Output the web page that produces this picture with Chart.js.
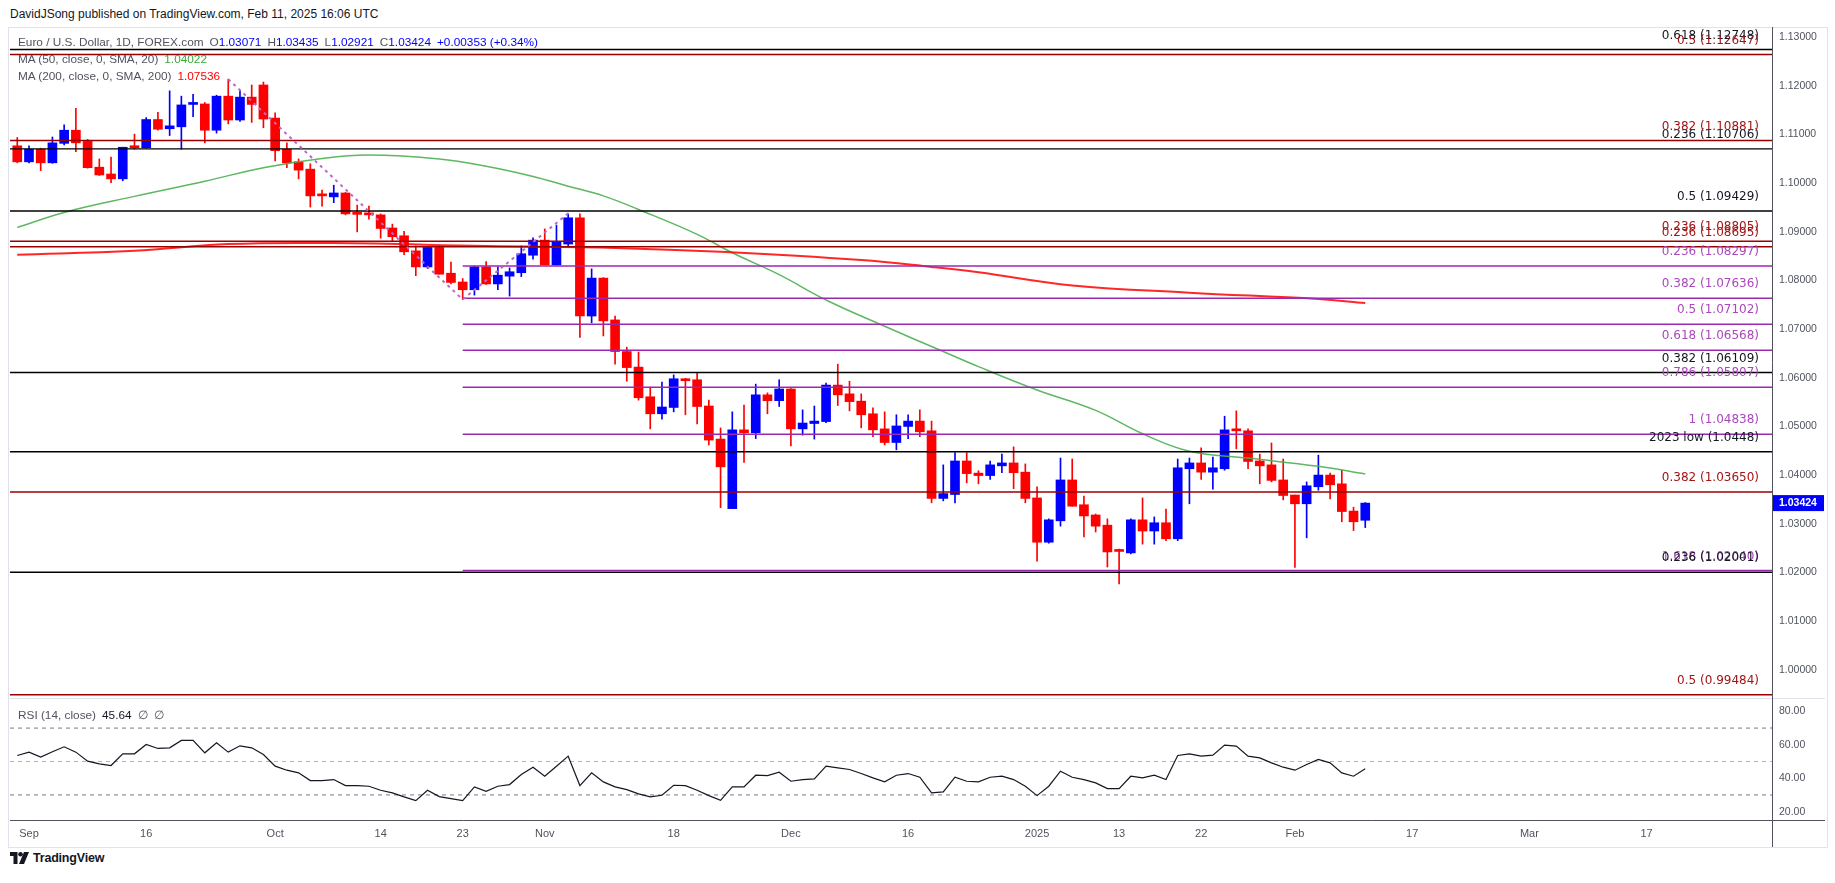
<!DOCTYPE html>
<html>
<head>
<meta charset="utf-8">
<title>EUR/USD 1D</title>
<script src="https://cdn.jsdelivr.net/npm/chart.js@4.4.1/dist/chart.umd.min.js"></script>
<style>
  html, body { margin: 0; padding: 0; background: #fff; }
  body { width: 1835px; height: 883px; position: relative; overflow: hidden; font-family: "Liberation Sans", Arial, sans-serif; color: #131722; }
  .abs { position: absolute; white-space: nowrap; }
  #frame { left: 8px; top: 27px; width: 1820px; height: 821px; border: 1px solid #e0e3eb; box-sizing: border-box; }
  #pub { left: 10px; top: 6px; font-size: 12px; line-height: 16px; }
  .leg { left: 18px; font-size: 11.8px; line-height: 16px; color: #50535e; z-index: 5; }
  .leg b { font-weight: normal; margin-left: 6px; }
  .v { color: #0000ff; }
  #mainWrap { left: 10px; top: 27px; width: 1815px; height: 671px; }
  #rsiWrap { left: 10px; top: 698px; width: 1815px; height: 149px; }
  #logo { left: 10px; top: 851px; font-size: 12.5px; line-height: 14px; font-weight: bold; letter-spacing: -0.2px; }
  #logo svg { vertical-align: -2px; margin-right: 4px; }
</style>
</head>
<body>
<div id="frame" class="abs"></div>
<div id="pub" class="abs">DavidJSong published on TradingView.com, Feb 11, 2025 16:06 UTC</div>

<div id="mainWrap" class="abs"><canvas id="main" width="1815" height="671"></canvas></div>
<div id="rsiWrap" class="abs"><canvas id="rsi" width="1815" height="149"></canvas></div>

<div class="abs leg" style="top:34px">Euro / U.S. Dollar, 1D, FOREX.com<b>O<span class="v">1.03071</span></b><b>H<span class="v">1.03435</span></b><b>L<span class="v">1.02921</span></b><b>C<span class="v">1.03424</span></b><b class="v">+0.00353 (+0.34%)</b></div>
<div class="abs leg" style="top:51px">MA (50, close, 0, SMA, 20)<b style="color:#3aa83a">1.04022</b></div>
<div class="abs leg" style="top:68px">MA (200, close, 0, SMA, 200)<b style="color:#ff0000">1.07536</b></div>
<div class="abs leg" style="top:707px">RSI (14, close)<b style="color:#131722">45.64</b><b>&#8709;</b><b>&#8709;</b></div>

<div id="logo" class="abs"><svg width="19" height="12" viewBox="0 0 38 24"><path d="M0 0h15v24H7V8H0z" fill="#131722"/><circle cx="21" cy="4.5" r="4.5" fill="#131722"/><path d="M28 0h10l-10 24H18z" fill="#131722"/></svg>TradingView</div>

<script>
// calendar of daily bars (weekdays, market closed on these dates)
const firstDay = "2024-08-30";
const lastDay = "2025-03-31";
const closedDays = ["2024-12-25", "2025-01-01"];

// EUR/USD daily OHLC, Aug 30 2024 -> Feb 11 2025
const opens = [
  1.1077,1.1044,1.1070,1.1042,1.1082,1.1109,1.1086,1.1033,1.1019,1.1009,
  1.1074,1.1073,1.1131,1.1112,1.1116,1.1162,1.1163,1.1109,1.1179,1.1130,
  1.1177,1.1202,1.1134,1.1070,1.1044,1.1029,1.0976,1.0972,1.0980,1.0937,
  1.0937,1.0935,1.0908,1.0892,1.0861,1.0828,1.0868,1.0815,1.0797,1.0781,
  1.0828,1.0793,1.0809,1.0816,1.0852,1.0883,1.0832,1.0875,1.0929,1.0727,
  1.0805,1.0719,1.0654,1.0622,1.0561,1.0526,1.0539,1.0597,1.0596,1.0542,
  1.0474,1.0331,1.0493,1.0487,1.0565,1.0553,1.0577,1.0495,1.0506,1.0510,
  1.0585,1.0567,1.0552,1.0526,1.0495,1.0467,1.0500,1.0511,1.0491,1.0352,
  1.0360,1.0429,1.0404,1.0399,1.0419,1.0425,1.0406,1.0353,1.0262,1.0306,
  1.0390,1.0339,1.0318,1.0297,1.0245,1.0240,1.0308,1.0285,1.0302,1.0269,
  1.0413,1.0425,1.0406,1.0413,1.0493,1.0491,1.0429,1.0421,1.0390,1.0359,
  1.0341,1.0376,1.0400,1.0382,1.0326,1.03071
];
const highs = [
  1.1094,1.1077,1.1072,1.1095,1.1120,1.1154,1.1090,1.1050,1.1054,1.1074,
  1.1101,1.1135,1.1146,1.1190,1.1179,1.1183,1.1166,1.1181,1.1214,1.1190,
  1.1202,1.1208,1.1145,1.1083,1.1050,1.1040,1.0986,1.0996,1.0981,1.0955,
  1.0953,1.0937,1.0916,1.0901,1.0871,1.0868,1.0871,1.0838,1.0804,1.0830,
  1.0839,1.0828,1.0826,1.0871,1.0888,1.0906,1.0914,1.0937,1.0937,1.0824,
  1.0806,1.0727,1.0663,1.0653,1.0581,1.0591,1.0606,1.0599,1.0609,1.0554,
  1.0497,1.0530,1.0544,1.0587,1.0569,1.0596,1.0578,1.0534,1.0542,1.0589,
  1.0628,1.0593,1.0567,1.0538,1.0530,1.0524,1.0524,1.0534,1.0511,1.0421,
  1.0446,1.0446,1.0409,1.0429,1.0443,1.0458,1.0423,1.0376,1.0310,1.0435,
  1.0433,1.0357,1.0320,1.0310,1.0248,1.0310,1.0353,1.0314,1.0330,1.0433,
  1.0435,1.0456,1.0437,1.0521,1.0532,1.0495,1.0443,1.0466,1.0433,1.0359,
  1.0386,1.0441,1.0404,1.0410,1.0334,1.03435
];
const lows = [
  1.1042,1.1042,1.1026,1.1041,1.1079,1.1065,1.1031,1.1016,1.1001,1.1005,
  1.1070,1.1072,1.1109,1.1098,1.1070,1.1137,1.1083,1.1103,1.1122,1.1127,
  1.1125,1.1114,1.1046,1.1032,1.1009,1.0951,1.0953,1.0960,1.0935,1.0900,
  1.0926,1.0887,1.0882,1.0853,1.0810,1.0825,1.0813,1.0793,1.0761,1.0770,
  1.0792,1.0781,1.0768,1.0808,1.0844,1.0832,1.0831,1.0871,1.0683,1.0713,
  1.0686,1.0628,1.0593,1.0554,1.0495,1.0515,1.0530,1.0524,1.0505,1.0462,
  1.0333,1.0331,1.0426,1.0475,1.0526,1.0541,1.0460,1.0482,1.0474,1.0508,
  1.0543,1.0532,1.0497,1.0479,1.0462,1.0452,1.0475,1.0479,1.0343,1.0347,
  1.0343,1.0384,1.0382,1.0391,1.0405,1.0372,1.0343,1.0223,1.0260,1.0295,
  1.0336,1.0273,1.0283,1.0211,1.0176,1.0238,1.0258,1.0258,1.0265,1.0265,
  1.0341,1.0391,1.0371,1.0410,1.0454,1.0413,1.0382,1.0386,1.0349,1.0210,
  1.0271,1.0369,1.0351,1.0304,1.0286,1.02921
];
const closes = [
  1.1044,1.1070,1.1042,1.1083,1.1109,1.1083,1.1032,1.1017,1.1009,1.1074,
  1.1073,1.1131,1.1111,1.1118,1.1161,1.1164,1.1109,1.1179,1.1130,1.1177,
  1.1162,1.1132,1.1067,1.1042,1.1027,1.0974,1.0974,1.0980,1.0937,1.0936,
  1.0935,1.0907,1.0890,1.0859,1.0828,1.0868,1.0813,1.0796,1.0781,1.0828,
  1.0793,1.0811,1.0818,1.0855,1.0883,1.0832,1.0879,1.0929,1.0727,1.0805,
  1.0717,1.0654,1.0621,1.0559,1.0526,1.0540,1.0598,1.0594,1.0541,1.0472,
  1.0417,1.0493,1.0487,1.0565,1.0553,1.0577,1.0495,1.0507,1.0511,1.0585,
  1.0565,1.0551,1.0524,1.0493,1.0467,1.0501,1.0511,1.0489,1.0352,1.0362,
  1.0429,1.0403,1.0399,1.0421,1.0425,1.0405,1.0352,1.0262,1.0308,1.0390,
  1.0336,1.0316,1.0295,1.0242,1.0243,1.0308,1.0285,1.0302,1.0269,1.0415,
  1.0425,1.0406,1.0415,1.0493,1.0491,1.0428,1.0419,1.0389,1.0358,1.0341,
  1.0378,1.0400,1.0380,1.0325,1.0304,1.03424
];

// RSI(14) read per bar
const rsi = [
  53.6,55.6,52.6,55.8,58.8,55.6,50.2,48.6,47.6,54.6,
  54.6,60.2,57.8,58.2,62.6,62.6,55.2,61.2,55.6,59.4,
  58.2,54.2,47.2,44.8,43.2,38.6,38.6,39.2,35.6,35.6,
  35.2,32.8,31.2,28.8,26.6,32.8,29.0,27.8,26.6,34.8,
  32.2,35.2,36.2,42.2,46.6,41.2,47.2,53.2,35.6,43.2,
  37.8,34.8,33.2,30.6,28.8,29.8,35.8,35.6,32.8,29.6,
  26.8,34.8,34.8,41.8,41.6,43.6,38.2,39.2,39.6,47.2,
  46.2,45.2,42.8,40.2,37.8,41.8,42.8,40.6,31.2,31.8,
  40.6,38.2,37.8,40.6,41.2,39.2,35.2,29.6,35.2,44.2,
  40.6,39.2,37.2,33.8,33.8,41.2,40.2,41.8,39.2,53.6,
  54.6,53.2,53.8,59.8,59.2,53.2,52.2,49.2,46.6,44.8,
  48.2,51.2,49.2,43.2,41.2,45.64
];

// moving averages, read at these bar numbers
const ma50Bars = [0,4,10,16,21,26,30,36,40,44,47,50,53,58,61,65,69,74,79,82,87,92,96,100,105,111,115];
const ma50 = [1.0909,1.0940,1.0973,1.1004,1.1032,1.1051,1.1058,1.1050,1.1035,1.1014,1.0994,1.0974,1.0946,1.0895,1.0857,1.0812,1.0760,1.0706,1.0654,1.0623,1.0575,1.0533,1.0485,1.0449,1.0435,1.0418,1.04022];
const ma200Bars = [0,10,18,27,40,51,60,72,78,82,90,100,111,115];
const ma200 = [1.0853,1.0861,1.0875,1.0877,1.0871,1.0867,1.0859,1.0842,1.0828,1.0817,1.0790,1.0775,1.0762,1.07536];

// swing trend (dashed) from the Sep high to the Oct low and back to the Nov high
const swingDates = ["2024-09-25", "2024-10-23", "2024-11-05"];
const swingValues = [1.1214, 1.0761, 1.0938];

// Fibonacci / reference levels
const blackLevels = [1.12748, 1.10706, 1.09429, 1.06109, 1.0448, 1.02001];
const blackLabels = ["0.618 (1.12748)", "0.236 (1.10706)", "0.5 (1.09429)", "0.382 (1.06109)", "2023 low (1.0448)", "0.236 (1.02001)"];
const redLevels = [1.12647, 1.10881, 1.08805, 1.08695, 1.03650, 0.99484];
const redLabels = ["0.5 (1.12647)", "0.382 (1.10881)", "0.236 (1.08805)", "0.236 (1.08695)", "0.382 (1.03650)", "0.5 (0.99484)"];
const purpleLevels = [1.08297, 1.07636, 1.07102, 1.06568, 1.05807, 1.04838, 1.02040];
const purpleLabels = ["0.236 (1.08297)", "0.382 (1.07636)", "0.5 (1.07102)", "0.618 (1.06568)", "0.786 (1.05807)", "1 (1.04838)", "1.618 (1.02040)"];
const purpleFrom = "2024-10-23";

// axis ticks
const tickDates = ["2024-09-02","2024-09-16","2024-10-01","2024-10-14","2024-10-23","2024-11-01","2024-11-18","2024-12-02","2024-12-16","2025-01-02","2025-01-13","2025-01-22","2025-02-03","2025-02-17","2025-03-03","2025-03-17"];
const tickLabels = ["Sep","16","Oct","14","23","Nov","18","Dec","16","2025","13","22","Feb","17","Mar","17"];
const priceTicks = [1.00,1.01,1.02,1.03,1.04,1.05,1.06,1.07,1.08,1.09,1.10,1.11,1.12,1.13];
const rsiTicks = [20, 40, 60, 80];
const rsiBands = [70, 50, 30];

// ---- view ----
const xMin = -0.62, xMax = 149.7;
const priceMin = 0.99417, priceMax = 1.13212;
const rsiMin = 15, rsiMax = 88;
const UP = "#0000ff", DOWN = "#ff0000";
const axisFont = { family: "Liberation Sans", size: 10.5 };
const axisColor = "#50535e";

function buildDays(from, to, skip) {
  const out = [];
  const d = new Date(from + "T00:00:00Z");
  const end = new Date(to + "T00:00:00Z");
  while (d <= end) {
    const s = d.toISOString().slice(0, 10);
    const wd = d.getUTCDay();
    if (wd !== 0 && wd !== 6 && !skip.includes(s)) out.push(s);
    d.setUTCDate(d.getUTCDate() + 1);
  }
  return out;
}
const days = buildDays(firstDay, lastDay, closedDays);
const barOf = {};
days.forEach((s, i) => { barOf[s] = i; });

const candleColors = closes.map((c, i) => (c >= opens[i] ? UP : DOWN));

const levelLine = (v, from, color, width) => ({
  type: "line",
  data: [{ x: from, y: v }, { x: xMax, y: v }],
  borderColor: color, borderWidth: width, pointRadius: 0, order: 2
});

const fibLabelPlugin = {
  id: "fibLabels",
  afterDatasetsDraw(chart) {
    const { ctx, chartArea, scales } = chart;
    const groups = [
      [purpleLevels, purpleLabels, "#ab47bc"],
      [blackLevels, blackLabels, "#131722"],
      [redLevels, redLabels, "#a31515"]
    ];
    ctx.save();
    ctx.font = "12px 'DejaVu Sans'";
    ctx.textAlign = "right";
    ctx.textBaseline = "middle";
    groups.forEach(([levels, labels, color]) => {
      ctx.fillStyle = color;
      levels.forEach((v, k) => {
        ctx.fillText(labels[k], chartArea.right - 13, scales.y.getPixelForValue(v) - 14);
      });
    });
    ctx.restore();
  },
  afterDraw(chart) {
    const { ctx, chartArea, scales } = chart;
    ctx.save();
    ctx.strokeStyle = "#50535e";
    ctx.lineWidth = 1;
    ctx.beginPath();
    ctx.moveTo(Math.round(chartArea.right) + 0.5, 0);
    ctx.lineTo(Math.round(chartArea.right) + 0.5, chart.height);
    ctx.stroke();
    // last price tag
    const last = closes[closes.length - 1];
    const y = scales.y.getPixelForValue(last);
    ctx.fillStyle = UP;
    ctx.fillRect(chartArea.right + 1, y - 8, 51, 16);
    ctx.fillStyle = "#ffffff";
    ctx.font = "bold 10.5px 'Liberation Sans'";
    ctx.textAlign = "left";
    ctx.textBaseline = "middle";
    ctx.fillText(last.toFixed(5), chartArea.right + 7, y + 0.5);
    ctx.restore();
  }
};

const mainDatasets = [
  ...purpleLevels.map(v => levelLine(v, barOf[purpleFrom], "#9c27b0", 1.5)),
  ...redLevels.map(v => levelLine(v, xMin, "#990000", 1.5)),
  ...blackLevels.map(v => levelLine(v, xMin, "#000000", 1.4)),
  {
    type: "line",
    data: swingDates.map((d, k) => ({ x: barOf[d], y: swingValues[k] })),
    borderColor: "#ba68c8", borderWidth: 2, borderDash: [3, 4], pointRadius: 0, order: 1
  },
  {
    type: "line",
    data: ma200Bars.map((b, k) => ({ x: b, y: ma200[k] })),
    borderColor: "rgba(255,0,0,0.85)", borderWidth: 2, pointRadius: 0, tension: 0.4, order: 3
  },
  {
    type: "line",
    data: ma50Bars.map((b, k) => ({ x: b, y: ma50[k] })),
    borderColor: "rgba(76,175,80,0.9)", borderWidth: 1.5, pointRadius: 0, tension: 0.4, order: 3
  },
  {
    type: "bar",
    data: closes.map((c, i) => ({ x: i, y: [lows[i], highs[i]] })),
    backgroundColor: candleColors, borderWidth: 0, barThickness: 1, grouped: false, order: 7
  },
  {
    type: "bar",
    data: closes.map((c, i) => ({ x: i, y: [opens[i], c] })),
    backgroundColor: candleColors, borderWidth: 0, barThickness: 9, minBarLength: 2, grouped: false, order: 6
  }
];

new Chart(document.getElementById("main"), {
  type: "bar",
  data: { datasets: mainDatasets },
  options: {
    animation: false,
    responsive: false,
    events: [],
    layout: { padding: 0 },
    plugins: { legend: { display: false }, tooltip: { enabled: false } },
    scales: {
      x: { type: "linear", display: false, min: xMin, max: xMax, offset: false },
      y: {
        type: "linear", position: "right", min: priceMin, max: priceMax,
        grid: { display: false, drawTicks: false }, border: { display: false },
        ticks: { color: axisColor, font: axisFont, padding: 7, callback: v => Number(v).toFixed(5) },
        afterBuildTicks: s => { s.ticks = priceTicks.map(v => ({ value: v })); },
        afterFit: s => { s.width = 53; s.paddingTop = 0; s.paddingBottom = 0; }
      }
    }
  },
  plugins: [fibLabelPlugin]
});

const rsiFramePlugin = {
  id: "rsiFrame",
  afterDraw(chart) {
    const { ctx, chartArea } = chart;
    ctx.save();
    ctx.lineWidth = 1;
    ctx.strokeStyle = "#e0e3eb";
    ctx.beginPath();
    ctx.moveTo(0, 0.5); ctx.lineTo(chart.width, 0.5);
    ctx.stroke();
    ctx.strokeStyle = "#50535e";
    ctx.beginPath();
    ctx.moveTo(Math.round(chartArea.right) + 0.5, 0);
    ctx.lineTo(Math.round(chartArea.right) + 0.5, chart.height);
    ctx.moveTo(0, Math.round(chartArea.bottom) + 0.5);
    ctx.lineTo(chart.width, Math.round(chartArea.bottom) + 0.5);
    ctx.stroke();
    ctx.restore();
  }
};

new Chart(document.getElementById("rsi"), {
  type: "line",
  data: {
    datasets: [
      {
        data: rsi.map((v, i) => ({ x: i, y: v })),
        borderColor: "#131722", borderWidth: 1.2, pointRadius: 0, tension: 0
      },
      ...rsiBands.map((v, k) => ({
        data: [{ x: xMin, y: v }, { x: xMax, y: v }],
        borderColor: k === 1 ? "#b2b5be" : "#787b86", borderWidth: 1, borderDash: [4, 4], pointRadius: 0
      }))
    ]
  },
  options: {
    animation: false,
    responsive: false,
    events: [],
    layout: { padding: 0 },
    plugins: { legend: { display: false }, tooltip: { enabled: false } },
    scales: {
      x: {
        type: "linear", min: xMin, max: xMax, offset: false,
        grid: { display: false, drawTicks: false }, border: { display: false },
        ticks: { autoSkip: false, maxRotation: 0, padding: 7, color: axisColor, font: { family: "Liberation Sans", size: 11 },
                 callback: (v, i) => tickLabels[i] },
        afterBuildTicks: s => { s.ticks = tickDates.map(d => ({ value: barOf[d] })); },
        afterFit: s => { s.height = 27; s.paddingLeft = 0; s.paddingRight = 0; }
      },
      y: {
        type: "linear", position: "right", min: rsiMin, max: rsiMax,
        grid: { display: false, drawTicks: false }, border: { display: false },
        ticks: { color: axisColor, font: axisFont, padding: 7, callback: v => Number(v).toFixed(2) },
        afterBuildTicks: s => { s.ticks = rsiTicks.map(v => ({ value: v })); },
        afterFit: s => { s.width = 53; s.paddingTop = 0; s.paddingBottom = 0; }
      }
    }
  },
  plugins: [rsiFramePlugin]
});
</script>
</body>
</html>
